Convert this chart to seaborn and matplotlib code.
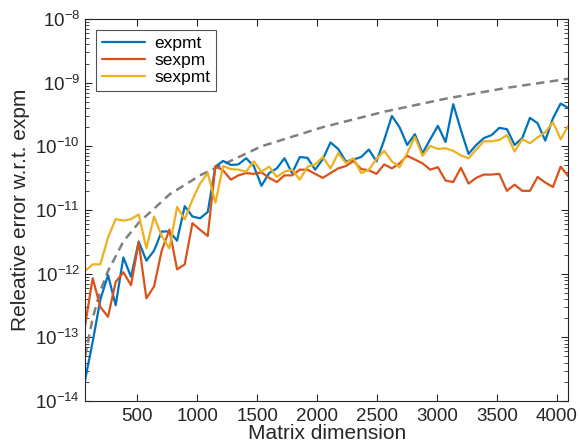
import numpy as np
import pandas as pd
import matplotlib
matplotlib.use("Agg")
import matplotlib.pyplot as plt
import seaborn as sns
from matplotlib.ticker import FixedLocator, NullFormatter, LogFormatterSciNotation
from matplotlib.lines import Line2D

# ---- data ----
n = [64, 128, 192, 256, 320, 384, 448, 512, 576, 640, 704, 768, 832, 896, 960, 1024,
     1088, 1152, 1216, 1280, 1344, 1408, 1472, 1536, 1600, 1664, 1728, 1792, 1856, 1920,
     1984, 2048, 2112, 2176, 2240, 2304, 2368, 2432, 2496, 2560, 2624, 2688, 2752, 2816,
     2880, 2944, 3008, 3072, 3136, 3200, 3264, 3328, 3392, 3456, 3520, 3584, 3648, 3712,
     3776, 3840, 3904, 3968, 4032, 4096]

expmt = [2.1e-14, 8.5e-14, 3.9e-13, 9.5e-13, 3.2e-13, 1.8e-12, 8.9e-13, 3.2e-12, 1.6e-12, 2.3e-12,
         4.6e-12, 4.6e-12, 3.3e-12, 1.15e-11, 7.9e-12, 7.4e-12, 9.3e-12, 4.8e-11, 5.9e-11, 5.1e-11,
         5.2e-11, 6.5e-11, 4.9e-11, 2.4e-11, 3.8e-11, 4.5e-11, 6.5e-11, 3.8e-11, 6.8e-11, 6.6e-11,
         4.3e-11, 6.3e-11, 1.15e-10, 9.1e-11, 5.8e-11, 6.2e-11, 6.8e-11, 8.9e-11, 5.8e-11, 1.26e-10,
         3.0e-10, 2.0e-10, 1.05e-10, 1.55e-10, 7.8e-11, 1.29e-10, 2.1e-10, 1.17e-10, 4.6e-10, 1.8e-10,
         7.6e-11, 1.05e-10, 1.35e-10, 1.5e-10, 1.95e-10, 1.86e-10, 1.05e-10, 1.35e-10, 2.8e-10, 2.3e-10,
         1.23e-10, 2.75e-10, 4.7e-10, 4.0e-10]

sexpm = [1.5e-13, 8.5e-13, 3.0e-13, 2.1e-13, 7.4e-13, 1.05e-12, 6.6e-13, 3.1e-12, 4.1e-13, 6.3e-13,
         2.3e-12, 4.9e-12, 1.17e-12, 1.4e-12, 6.2e-12, 4.9e-12, 3.9e-12, 4.9e-11, 4.2e-11, 3.0e-11,
         3.5e-11, 3.8e-11, 3.7e-11, 3.9e-11, 3.2e-11, 2.75e-11, 3.5e-11, 3.5e-11, 4.3e-11, 4.3e-11,
         3.7e-11, 3.2e-11, 3.8e-11, 4.5e-11, 4.9e-11, 5.9e-11, 4.4e-11, 4.2e-11, 3.7e-11, 5.2e-11,
         4.5e-11, 5.4e-11, 7.1e-11, 6.2e-11, 5.4e-11, 4.3e-11, 4.7e-11, 2.9e-11, 2.75e-11, 4.6e-11,
         2.6e-11, 3.2e-11, 3.6e-11, 3.6e-11, 3.7e-11, 2.0e-11, 2.5e-11, 2.0e-11, 2.0e-11, 3.3e-11,
         2.7e-11, 2.3e-11, 4.8e-11, 3.4e-11]

sexpmt = [1.1e-12, 1.4e-12, 1.4e-12, 3.7e-12, 7.2e-12, 6.8e-12, 7.2e-12, 8.5e-12, 2.5e-12, 7.9e-12,
          3.9e-12, 2.5e-12, 1.12e-11, 7.1e-12, 1.45e-11, 2.6e-11, 3.8e-11, 1.3e-11, 4.9e-11, 4.4e-11,
          4.3e-11, 4.0e-11, 5.8e-11, 4.0e-11, 4.8e-11, 3.3e-11, 4.0e-11, 4.3e-11, 3.0e-11, 4.8e-11,
          5.2e-11, 6.8e-11, 4.5e-11, 7.8e-11, 5.5e-11, 6.5e-11, 3.8e-11, 4.3e-11, 6.3e-11, 8.5e-11,
          5.8e-11, 4.7e-11, 7.8e-11, 1.4e-10, 7.1e-11, 1.02e-10, 9.1e-11, 9.3e-11, 8.5e-11, 7.2e-11,
          6.5e-11, 8.9e-11, 1.2e-10, 1.2e-10, 1.26e-10, 1.5e-10, 8.3e-11, 1.29e-10, 1.12e-10, 1.38e-10,
          1.66e-10, 2.4e-10, 1.29e-10, 2.1e-10]

bound_n = [64, 128, 192, 256, 384, 512, 768, 1024, 1536, 2048, 2560, 3072, 3584, 4096]
bound = [5.0e-14, 2.0e-13, 5.4e-13, 1.1e-12, 3.2e-12, 6.3e-12, 1.75e-11, 3.5e-11, 1.0e-10,
         2.0e-10, 3.5e-10, 5.6e-10, 8.3e-10, 1.15e-9]

series_names = ["expmt", "sexpm", "sexpmt"]
colors = ["#0072BD", "#D95319", "#EDB120"]
x_ticks = [500, 1000, 1500, 2000, 2500, 3000, 3500, 4000]
y_ticks = [1e-14, 1e-13, 1e-12, 1e-11, 1e-10, 1e-9, 1e-8]

# ---- plotting ----
sns.set_theme(style="ticks")
plt.rcParams["font.family"] = ["Liberation Sans", "DejaVu Sans"]
plt.rcParams["mathtext.fontset"] = "custom"
plt.rcParams["mathtext.rm"] = "Liberation Sans"
plt.rcParams["mathtext.it"] = "Liberation Sans:italic"
plt.rcParams["mathtext.bf"] = "Liberation Sans:bold"

df = pd.DataFrame({
    "n": n * 3,
    "err": expmt + sexpm + sexpmt,
    "method": sum([[s] * len(n) for s in series_names], []),
})

fig = plt.figure(figsize=(5.8, 4.47), dpi=100)
ax = fig.add_axes([85 / 580, 1 - 401 / 447, (568.3 - 85) / 580, (401 - 19) / 447])

ax.plot(bound_n, bound, color="#808080", lw=1.8, dashes=(3.4, 2.2), zorder=1)
sns.lineplot(data=df, x="n", y="err", hue="method", hue_order=series_names,
             palette=colors, linewidth=1.6, ax=ax, legend=False, zorder=2)

ax.set_yscale("log")
ax.set_xlim(64, 4096)
ax.set_ylim(1e-14, 1e-8)
ax.xaxis.set_major_locator(FixedLocator(x_ticks))
ax.yaxis.set_major_locator(FixedLocator(y_ticks))
ax.yaxis.set_major_formatter(LogFormatterSciNotation())
minor = [m * t for t in y_ticks[:-1] for m in range(2, 10)]
ax.yaxis.set_minor_locator(FixedLocator(minor))
ax.yaxis.set_minor_formatter(NullFormatter())

axis_col = "#262626"
for sp in ax.spines.values():
    sp.set_color(axis_col)
    sp.set_linewidth(0.8)
ax.tick_params(axis="both", which="both", direction="in", top=True, right=True,
               colors=axis_col, labelcolor=axis_col, labelsize=13.5)
ax.tick_params(which="major", length=5, width=0.8)
ax.tick_params(which="minor", length=2.8, width=0.6)
ax.tick_params(axis="x", pad=5)

ax.set_xlabel("Matrix dimension", fontsize=15, color=axis_col, labelpad=-1)
ax.set_ylabel("Releative error w.r.t. expm", fontsize=15, color=axis_col, labelpad=4)

handles = [Line2D([], [], color=c, lw=1.6) for c in colors]
leg = ax.legend(handles, series_names, loc="upper left", bbox_to_anchor=(0.0228, 0.971),
                borderaxespad=0, fontsize=12.5, frameon=True, fancybox=False,
                handlelength=2.5, handletextpad=0.5, labelspacing=0.1, borderpad=0.35)
leg.get_frame().set_edgecolor(axis_col)
leg.get_frame().set_linewidth(0.8)
for t in leg.get_texts():
    t.set_color("#000000")

fig.savefig("out.png", dpi=100)
